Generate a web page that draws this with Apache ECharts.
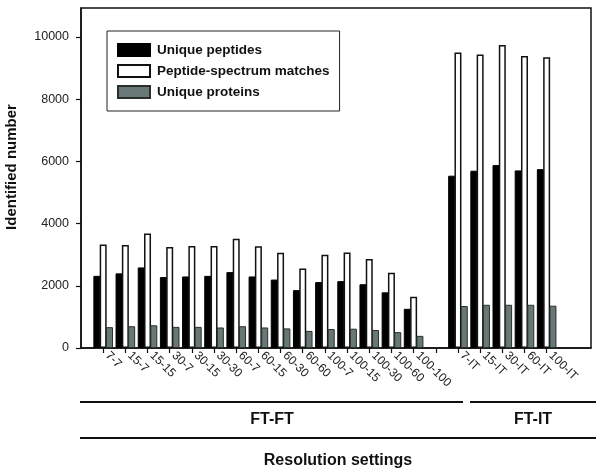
<!DOCTYPE html>
<html>
<head>
<meta charset="utf-8">
<script src="https://cdn.jsdelivr.net/npm/echarts@6/dist/echarts.min.js"></script>
<style>html,body{margin:0;padding:0;background:#fff}#c{width:602px;height:473px}</style>
</head>
<body>
<div id="c"></div>
<script>
// Categories
const ftftCats = ['7-7','15-7','15-15','30-7','30-15','30-30','60-7','60-15','60-30','60-60','100-7','100-15','100-30','100-60','100-100'];
const ftitCats = ['7-IT','15-IT','30-IT','60-IT','100-IT'];
// Values (FT-FT)
const ftftPeptides = [2320, 2400, 2590, 2280, 2300, 2320, 2440, 2300, 2200, 1860, 2120, 2150, 2050, 1790, 1260];
const ftftPSM      = [3330, 3310, 3680, 3250, 3280, 3280, 3510, 3270, 3060, 2560, 3000, 3070, 2860, 2420, 1650];
const ftftProteins = [ 670,  700,  730,  680,  680,  660,  700,  660,  630,  550,  610,  620,  580,  510,  390];
// Values (FT-IT)
const ftitPeptides = [5540, 5700, 5880, 5710, 5750];
const ftitPSM      = [9500, 9440, 9740, 9390, 9350];
const ftitProteins = [1350, 1390, 1390, 1390, 1360];
const yTicks = [0, 2000, 4000, 6000, 8000, 10000];

// Build category axis with spacer slots
const cats = [''].concat(ftftCats, [''], ftitCats, ['', '']);
const pad = v => [null].concat(v.slice(0, 15), [null], v.slice(15), [null, null]);
const peptides = pad(ftftPeptides.concat(ftitPeptides));
const psm = pad(ftftPSM.concat(ftitPSM));
const proteins = pad(ftftProteins.concat(ftitProteins));

const FONT = 'Liberation Sans, Arial, Helvetica, sans-serif';
const chart = echarts.init(document.getElementById('c'), null, {renderer: 'canvas'});
const option = {
  backgroundColor: '#fff',
  animation: false,
  grid: {left: 81, right: 11, top: 8, bottom: 125, show: true, borderColor: '#111', borderWidth: 1.5, backgroundColor: 'transparent'},
  legend: {
    orient: 'vertical', left: 107, top: 31,
    itemWidth: 32, itemHeight: 12, itemGap: 7,
    padding: [12, 10, 12, 10],
    borderColor: '#222', borderWidth: 1,
    icon: 'rect',
    textStyle: {fontFamily: FONT, fontWeight: 'bold', fontSize: 13.5, lineHeight: 14, color: '#111', padding: [0, 0, 0, 2]},
    data: ['Unique peptides', 'Peptide-spectrum matches', 'Unique proteins']
  },
  xAxis: {
    type: 'category', data: cats, boundaryGap: false,
    axisLine: {lineStyle: {color: '#111', width: 1.5}},
    axisTick: {length: 5, lineStyle: {color: '#111', width: 1.2}, interval: (i) => i >= 1 && i <= 21},
    axisLabel: {interval: 0, rotate: -45, margin: 10, verticalAlign: 'bottom', fontFamily: FONT, fontSize: 12, color: '#222'},
    splitLine: {show: false}
  },
  yAxis: {
    type: 'value', min: 0, max: 10932, interval: 2000,
    axisLine: {show: true, lineStyle: {color: '#111', width: 1.5}},
    axisTick: {show: true, length: 5, customValues: yTicks, lineStyle: {color: '#111', width: 1.2}},
    axisLabel: {fontFamily: FONT, fontSize: 12.5, color: '#222', margin: 12, customValues: yTicks,
      formatter: v => (yTicks.indexOf(v) >= 0 ? String(v) : '')},
    splitLine: {show: false}
  },
  series: [
    {name: 'Unique peptides', type: 'bar', data: peptides, barWidth: 7, barGap: '-10%',
      itemStyle: {color: '#000', borderColor: '#000', borderWidth: 1}},
    {name: 'Peptide-spectrum matches', type: 'bar', data: psm, barWidth: 7, barGap: '-10%',
      itemStyle: {color: '#fff', borderColor: '#111', borderWidth: 1.5}},
    {name: 'Unique proteins', type: 'bar', data: proteins, barWidth: 7, barGap: '-10%',
      itemStyle: {color: '#687876', borderColor: '#2a2f2e', borderWidth: 1}}
  ],
  graphic: [
    {type: 'text', x: 12, y: 167, rotation: Math.PI / 2, style: {text: 'Identified number', font: 'bold 15px ' + FONT, fill: '#111', textAlign: 'center', textVerticalAlign: 'middle'}},
    {type: 'line', shape: {x1: 80, y1: 402, x2: 463, y2: 402}, style: {stroke: '#111', lineWidth: 2}},
    {type: 'line', shape: {x1: 470, y1: 402, x2: 596, y2: 402}, style: {stroke: '#111', lineWidth: 2}},
    {type: 'line', shape: {x1: 80, y1: 438, x2: 596, y2: 438}, style: {stroke: '#111', lineWidth: 2}},
    {type: 'text', x: 272, y: 420, style: {text: 'FT-FT', font: 'bold 16px ' + FONT, fill: '#111', textAlign: 'center', textVerticalAlign: 'middle'}},
    {type: 'text', x: 533, y: 420, style: {text: 'FT-IT', font: 'bold 16px ' + FONT, fill: '#111', textAlign: 'center', textVerticalAlign: 'middle'}},
    {type: 'text', x: 338, y: 461, style: {text: 'Resolution settings', font: 'bold 16px ' + FONT, fill: '#111', textAlign: 'center', textVerticalAlign: 'middle'}}
  ]
};
chart.setOption(option);
</script>
</body>
</html>
